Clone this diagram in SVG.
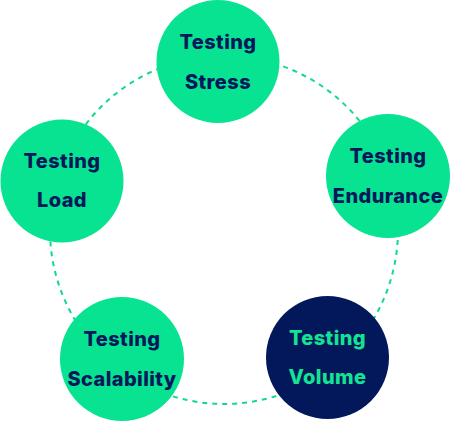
<svg xmlns="http://www.w3.org/2000/svg" width="450" height="421" viewBox="0 0 450 421">
<style>
.ring{fill:none;stroke:#12D98E;stroke-width:2;stroke-dasharray:5 5}
.g{fill:#07E390}
.n{fill:#02185A}
text{font-family:"Inter","Noto Sans",sans-serif;font-weight:800;font-size:20px;letter-spacing:0.4px;text-anchor:middle}
.dt{fill:#02185A}
.lt{fill:#14E394}
</style>
<rect width="450" height="421" fill="#ffffff"/>
<g id="connectors">
<circle class="ring" cx="224" cy="230" r="174"/>
</g>
<g id="stress">
<circle class="g" cx="218" cy="61.5" r="61.5"/>
<text class="dt" x="218" y="49">Testing</text>
<text class="dt" x="218" y="89">Stress</text>
</g>
<g id="endurance">
<circle class="g" cx="388" cy="176" r="62"/>
<text class="dt" x="388" y="163">Testing</text>
<text class="dt" x="388" y="203">Endurance</text>
</g>
<g id="volume">
<circle class="n" cx="327.5" cy="357.5" r="61.5"/>
<text class="lt" x="327.5" y="345">Testing</text>
<text class="lt" x="327.5" y="384">Volume</text>
</g>
<g id="scalability">
<circle class="g" cx="122" cy="359" r="62"/>
<text class="dt" x="122" y="346">Testing</text>
<text class="dt" x="122" y="386">Scalability</text>
</g>
<g id="load">
<circle class="g" cx="62" cy="181" r="61.5"/>
<text class="dt" x="62" y="168">Testing</text>
<text class="dt" x="62" y="207">Load</text>
</g>
</svg>
